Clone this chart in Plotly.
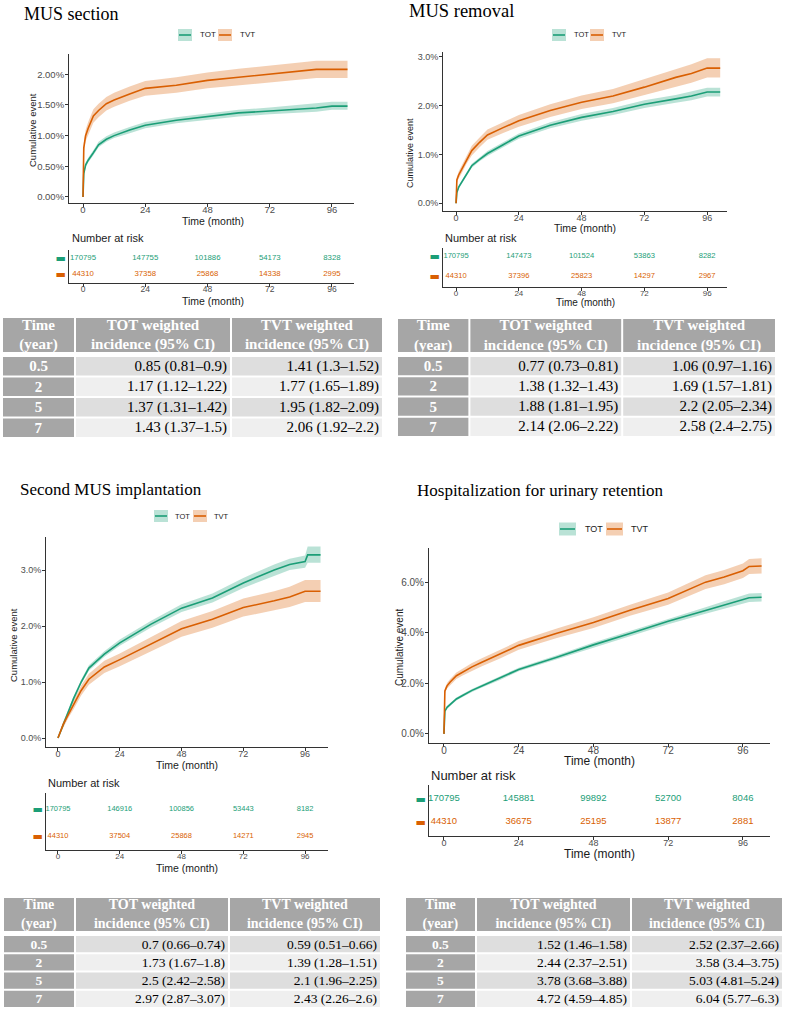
import plotly.graph_objects as go

# ======================= DATA =======================
groups = ["TOT", "TVT"]
x_ticks = [0, 24, 48, 72, 96]
risk_months = [0, 24, 48, 72, 96]
table_times = ["0.5", "2", "5", "7"]
table_header = ["<b>Time<br>(year)</b>", "<b>TOT weighted<br>incidence (95% CI)</b>",
                "<b>TVT weighted<br>incidence (95% CI)</b>"]

# ---- Panel 1: MUS section ----
p1_title = "MUS section"
p1_month = [0, 0.3, 1, 2, 4, 6, 9, 12, 18, 24, 36, 48, 60, 72, 84, 90, 96, 102]
p1_tot = [0, 0.38, 0.52, 0.60, 0.72, 0.85, 0.94, 1.00, 1.09, 1.17, 1.25, 1.31, 1.37, 1.40, 1.43, 1.45, 1.48, 1.48]
p1_tot_lo = [0, 0.34, 0.48, 0.56, 0.68, 0.81, 0.90, 0.96, 1.04, 1.12, 1.20, 1.26, 1.31, 1.35, 1.37, 1.39, 1.42, 1.42]
p1_tot_hi = [0, 0.42, 0.56, 0.64, 0.76, 0.90, 0.99, 1.05, 1.14, 1.22, 1.30, 1.36, 1.42, 1.46, 1.50, 1.52, 1.55, 1.55]
p1_tvt = [0, 0.80, 1.00, 1.12, 1.32, 1.41, 1.52, 1.58, 1.68, 1.77, 1.82, 1.90, 1.95, 2.00, 2.06, 2.08, 2.08, 2.08]
p1_tvt_lo = [0, 0.72, 0.91, 1.02, 1.21, 1.30, 1.41, 1.47, 1.57, 1.65, 1.70, 1.77, 1.82, 1.87, 1.92, 1.94, 1.94, 1.94]
p1_tvt_hi = [0, 0.88, 1.09, 1.22, 1.43, 1.52, 1.63, 1.70, 1.80, 1.89, 1.95, 2.03, 2.09, 2.14, 2.20, 2.22, 2.22, 2.22]
p1_yticks = [0, 0.5, 1.0, 1.5, 2.0]
p1_risk_tot = [170795, 147755, 101886, 54173, 8328]
p1_risk_tvt = [44310, 37358, 25868, 14338, 2995]
p1_tab_tot = ["0.85 (0.81–0.9)", "1.17 (1.12–1.22)", "1.37 (1.31–1.42)", "1.43 (1.37–1.5)"]
p1_tab_tvt = ["1.41 (1.3–1.52)", "1.77 (1.65–1.89)", "1.95 (1.82–2.09)", "2.06 (1.92–2.2)"]

# ---- Panel 2: MUS removal ----
p2_title = "MUS removal"
p2_month = [0, 0.3, 1, 2, 4, 6, 9, 12, 18, 24, 36, 48, 60, 72, 84, 90, 96, 101]
p2_tot = [0, 0.22, 0.33, 0.42, 0.60, 0.77, 0.90, 1.02, 1.20, 1.38, 1.60, 1.76, 1.88, 2.03, 2.14, 2.20, 2.28, 2.28]
p2_tot_lo = [0, 0.19, 0.30, 0.39, 0.56, 0.73, 0.86, 0.97, 1.15, 1.32, 1.54, 1.69, 1.81, 1.95, 2.06, 2.11, 2.19, 2.19]
p2_tot_hi = [0, 0.25, 0.36, 0.45, 0.64, 0.81, 0.94, 1.07, 1.25, 1.43, 1.66, 1.83, 1.95, 2.11, 2.22, 2.29, 2.37, 2.37]
p2_tvt = [0, 0.48, 0.58, 0.68, 0.90, 1.08, 1.25, 1.40, 1.55, 1.69, 1.90, 2.07, 2.20, 2.38, 2.58, 2.66, 2.77, 2.77]
p2_tvt_lo = [0, 0.42, 0.51, 0.60, 0.81, 0.98, 1.15, 1.30, 1.44, 1.57, 1.77, 1.93, 2.05, 2.22, 2.40, 2.47, 2.58, 2.58]
p2_tvt_hi = [0, 0.54, 0.65, 0.76, 0.99, 1.18, 1.35, 1.51, 1.66, 1.81, 2.03, 2.21, 2.34, 2.54, 2.75, 2.85, 2.97, 2.97]
p2_yticks = [0, 1, 2, 3]
p2_risk_tot = [170795, 147473, 101524, 53863, 8282]
p2_risk_tvt = [44310, 37396, 25823, 14297, 2967]
p2_tab_tot = ["0.77 (0.73–0.81)", "1.38 (1.32–1.43)", "1.88 (1.81–1.95)", "2.14 (2.06–2.22)"]
p2_tab_tvt = ["1.06 (0.97–1.16)", "1.69 (1.57–1.81)", "2.2 (2.05–2.34)", "2.58 (2.4–2.75)"]

# ---- Panel 3: Second MUS implantation ----
p3_title = "Second MUS implantation"
p3_month = [0, 1, 2, 4, 6, 9, 12, 18, 24, 36, 48, 60, 72, 84, 90, 96, 97, 102]
p3_tot = [0, 0.12, 0.25, 0.48, 0.70, 1.00, 1.25, 1.50, 1.70, 2.03, 2.32, 2.50, 2.77, 3.00, 3.10, 3.15, 3.27, 3.27]
p3_tot_lo = [0, 0.10, 0.22, 0.45, 0.66, 0.96, 1.20, 1.45, 1.65, 1.97, 2.25, 2.42, 2.68, 2.90, 3.00, 3.04, 3.13, 3.13]
p3_tot_hi = [0, 0.14, 0.28, 0.51, 0.74, 1.04, 1.30, 1.55, 1.76, 2.09, 2.39, 2.58, 2.86, 3.10, 3.20, 3.26, 3.42, 3.42]
p3_tvt = [0, 0.12, 0.24, 0.42, 0.59, 0.85, 1.05, 1.27, 1.40, 1.67, 1.95, 2.12, 2.33, 2.45, 2.52, 2.62, 2.62, 2.62]
p3_tvt_lo = [0, 0.09, 0.19, 0.36, 0.51, 0.76, 0.95, 1.16, 1.28, 1.54, 1.81, 1.97, 2.17, 2.28, 2.34, 2.43, 2.43, 2.43]
p3_tvt_hi = [0, 0.15, 0.29, 0.48, 0.66, 0.94, 1.15, 1.38, 1.51, 1.80, 2.09, 2.27, 2.49, 2.62, 2.70, 2.82, 2.82, 2.82]
p3_yticks = [0, 1, 2, 3]
p3_risk_tot = [170795, 146916, 100856, 53443, 8182]
p3_risk_tvt = [44310, 37504, 25868, 14271, 2945]
p3_tab_tot = ["0.7 (0.66–0.74)", "1.73 (1.67–1.8)", "2.5 (2.42–2.58)", "2.97 (2.87–3.07)"]
p3_tab_tvt = ["0.59 (0.51–0.66)", "1.39 (1.28–1.51)", "2.1 (1.96–2.25)", "2.43 (2.26–2.6)"]

# ---- Panel 4: Hospitalization for urinary retention ----
p4_title = "Hospitalization for urinary retention"
p4_month = [0, 0.3, 1, 2, 4, 6, 9, 12, 18, 24, 36, 48, 60, 72, 84, 90, 96, 98, 102]
p4_tot = [0, 0.90, 1.05, 1.15, 1.38, 1.52, 1.72, 1.88, 2.20, 2.55, 3.02, 3.52, 3.98, 4.45, 4.88, 5.10, 5.30, 5.38, 5.40]
p4_tot_lo = [0, 0.85, 0.99, 1.09, 1.32, 1.46, 1.66, 1.82, 2.13, 2.48, 2.94, 3.43, 3.88, 4.34, 4.75, 4.96, 5.14, 5.21, 5.23]
p4_tot_hi = [0, 0.95, 1.11, 1.21, 1.44, 1.58, 1.78, 1.94, 2.27, 2.62, 3.10, 3.61, 4.08, 4.56, 5.01, 5.24, 5.46, 5.55, 5.57]
p4_tvt = [0, 1.70, 1.90, 2.05, 2.30, 2.45, 2.65, 2.82, 3.15, 3.50, 3.97, 4.40, 4.90, 5.35, 6.00, 6.20, 6.45, 6.62, 6.64]
p4_tvt_lo = [0, 1.60, 1.79, 1.93, 2.17, 2.31, 2.50, 2.66, 2.98, 3.33, 3.78, 4.19, 4.68, 5.11, 5.73, 5.92, 6.16, 6.32, 6.34]
p4_tvt_hi = [0, 1.80, 2.01, 2.17, 2.43, 2.59, 2.80, 2.98, 3.32, 3.67, 4.16, 4.61, 5.12, 5.59, 6.27, 6.48, 6.74, 6.92, 6.94]
p4_yticks = [0, 2, 4, 6]
p4_risk_tot = [170795, 145881, 99892, 52700, 8046]
p4_risk_tvt = [44310, 36675, 25195, 13877, 2881]
p4_tab_tot = ["1.52 (1.46–1.58)", "2.44 (2.37–2.51)", "3.78 (3.68–3.88)", "4.72 (4.59–4.85)"]
p4_tab_tvt = ["2.52 (2.37–2.66)", "3.58 (3.4–3.75)", "5.03 (4.81–5.24)", "6.04 (5.77–6.3)"]

# ======================= STYLE / GEOMETRY =======================
W, H = 785, 1009
COL = {"TOT": "#1b9e77", "TVT": "#d95f02"}
BAND = {"TOT": "rgba(27,158,119,0.30)", "TVT": "rgba(217,95,2,0.30)"}
SANS = "Liberation Sans, Arial, sans-serif"
SERIF = "Liberation Serif, Times New Roman, serif"
AXC = "#333333"
TICKC = "#4d4d4d"
HEAD_FILL = "#a6a6a6"
ROW_FILLS = ["#dedede", "#efefef"]


def fx(p):
    return p / W


def fy(p):
    return 1 - p / H


panels = [
    dict(title=p1_title, month=p1_month, tot=p1_tot, tot_lo=p1_tot_lo, tot_hi=p1_tot_hi,
         tvt=p1_tvt, tvt_lo=p1_tvt_lo, tvt_hi=p1_tvt_hi, yticks=p1_yticks, ydec=2,
         risk_tot=p1_risk_tot, risk_tvt=p1_risk_tvt, tab_tot=p1_tab_tot, tab_tvt=p1_tab_tvt,
         g=dict(title=(22, 14, 18), leg=(178, 198, 218, 238, 35, 14, 12, 8),
                mx=(69, 354), my=(54, 203), xr=(-5.4, 104.5), yr=(-0.098, 2.33),
                ytitle=(32, 130, 9.5), xtitle=(213, 221, 10.5),
                nar=(70, 238, 11), ry=(250, 283), ryr=(-0.5625, 1.5), rxtitle=(213, 301, 10.5),
                tick=9.5, rfont=7.8,
                tab_x=(2, 383), head_y=(318, 352), body_y=(356, 438), cw=(73, 156, 152),
                tfont=15, hfont=15)),
    dict(title=p2_title, month=p2_month, tot=p2_tot, tot_lo=p2_tot_lo, tot_hi=p2_tot_hi,
         tvt=p2_tvt, tvt_lo=p2_tvt_lo, tvt_hi=p2_tvt_hi, yticks=p2_yticks, ydec=1,
         risk_tot=p2_risk_tot, risk_tvt=p2_risk_tvt, tab_tot=p2_tab_tot, tab_tvt=p2_tab_tvt,
         g=dict(title=(407, 11, 18.5), leg=(552, 572, 590, 610, 35, 14, 12, 7.5),
                mx=(443, 727), my=(52, 211), xr=(-5.0, 103.6), yr=(-0.158, 3.10),
                ytitle=(410, 153, 9), xtitle=(585, 228, 10.5),
                nar=(443, 238, 11), ry=(248, 287), ryr=(-0.55, 1.4), rxtitle=(585, 302, 10),
                tick=9, rfont=7.6,
                tab_x=(397, 776), head_y=(319, 352), body_y=(356, 437), cw=(72, 152, 153),
                tfont=15, hfont=15)),
    dict(title=p3_title, month=p3_month, tot=p3_tot, tot_lo=p3_tot_lo, tot_hi=p3_tot_hi,
         tvt=p3_tvt, tvt_lo=p3_tvt_lo, tvt_hi=p3_tvt_hi, yticks=p3_yticks, ydec=1,
         risk_tot=p3_risk_tot, risk_tvt=p3_risk_tvt, tab_tot=p3_tab_tot, tab_tvt=p3_tab_tvt,
         g=dict(title=(18, 489, 17), leg=(154, 173, 193, 212, 516, 14, 12, 7.5),
                mx=(46, 328), my=(537, 747), xr=(-4.66, 104.9), yr=(-0.16, 3.59),
                ytitle=(13, 645, 9.5), xtitle=(187, 765, 10.5),
                nar=(46, 783, 11), ry=(793, 850), ryr=(-0.52, 1.59), rxtitle=(187, 868, 10.5),
                tick=9, rfont=7.5,
                tab_x=(3, 381), head_y=(898, 931), body_y=(935, 1008), cw=(72, 154, 152),
                tfont=13.5, hfont=14)),
    dict(title=p4_title, month=p4_month, tot=p4_tot, tot_lo=p4_tot_lo, tot_hi=p4_tot_hi,
         tvt=p4_tvt, tvt_lo=p4_tvt_lo, tvt_hi=p4_tvt_hi, yticks=p4_yticks, ydec=1,
         risk_tot=p4_risk_tot, risk_tvt=p4_risk_tvt, tab_tot=p4_tab_tot, tab_tvt=p4_tab_tvt,
         g=dict(title=(415, 490, 17), leg=(559, 583, 606, 629, 529, 17, 13, 9),
                mx=(429, 770), my=(548, 743), xr=(-4.8, 104.7), yr=(-0.36, 7.35),
                ytitle=(399, 648, 10), xtitle=(599, 761, 12),
                nar=(429, 775, 13), ry=(785, 836), ryr=(-0.61, 1.61), rxtitle=(599, 854, 12),
                tick=10, rfont=9.5,
                tab_x=(405, 783), head_y=(898, 931), body_y=(935, 1008), cw=(71, 155, 152),
                tfont=13.5, hfont=14)),
]

fig = go.Figure()
annotations = []
shapes = []
layout_axes = {}

for i, p in enumerate(panels):
    g = p["g"]
    na = 2 * i + 1      # main plot axis number
    nr = 2 * i + 2      # risk table axis number
    nt = 9 + i          # incidence table axis number
    xa, ya = f"x{na}", f"y{na}"
    xr_, yr_ = f"x{nr}", f"y{nr}"
    xt, yt = f"x{nt}", f"y{nt}"

    # ---- curves with CI bands ----
    for grp, lo, hi in [("TOT", p["tot_lo"], p["tot_hi"]), ("TVT", p["tvt_lo"], p["tvt_hi"])]:
        fig.add_trace(go.Scatter(x=p["month"], y=lo, mode="lines", line=dict(width=0),
                                 xaxis=xa, yaxis=ya, showlegend=False, hoverinfo="skip"))
        fig.add_trace(go.Scatter(x=p["month"], y=hi, mode="lines", line=dict(width=0),
                                 fill="tonexty", fillcolor=BAND[grp],
                                 xaxis=xa, yaxis=ya, showlegend=False, hoverinfo="skip"))
    for grp, est in [("TOT", p["tot"]), ("TVT", p["tvt"])]:
        fig.add_trace(go.Scatter(x=p["month"], y=est, mode="lines", name=grp,
                                 line=dict(color=COL[grp], width=1.6),
                                 xaxis=xa, yaxis=ya, showlegend=False))

    # ---- risk table numbers ----
    for grp, vals, row in [("TOT", p["risk_tot"], 1), ("TVT", p["risk_tvt"], 0)]:
        fig.add_trace(go.Scatter(x=risk_months, y=[row] * len(risk_months), mode="text",
                                 text=[str(v) for v in vals],
                                 textfont=dict(family=SANS, size=g["rfont"], color=COL[grp]),
                                 xaxis=xr_, yaxis=yr_, showlegend=False, cliponaxis=False,
                                 hoverinfo="skip"))

    common_x = dict(range=list(g["xr"]), tickvals=x_ticks, ticks="outside", ticklen=3,
                    tickcolor=AXC, showline=True, linecolor=AXC, linewidth=1,
                    showgrid=False, zeroline=False, ticklabelstandoff=-5,
                    tickfont=dict(family=SANS, size=g["tick"], color=TICKC),
                    domain=[fx(g["mx"][0]), fx(g["mx"][1])], fixedrange=True)
    layout_axes[f"xaxis{na}"] = dict(common_x, anchor=ya)
    fmt = "{:." + str(p["ydec"]) + "f}%"
    layout_axes[f"yaxis{na}"] = dict(
        range=list(g["yr"]), tickvals=p["yticks"], ticktext=[fmt.format(v) for v in p["yticks"]],
        ticks="outside", ticklen=3, tickcolor=AXC, showline=True, linecolor=AXC, linewidth=1,
        showgrid=False, zeroline=False, ticklabelstandoff=-1,
        tickfont=dict(family=SANS, size=g["tick"], color=TICKC),
        domain=[fy(g["my"][1]), fy(g["my"][0])], anchor=xa, fixedrange=True)
    rx = dict(common_x, anchor=yr_)
    rx["tickfont"] = dict(family=SANS, size=g["tick"] - 1, color=TICKC)
    layout_axes[f"xaxis{nr}"] = rx
    layout_axes[f"yaxis{nr}"] = dict(
        range=list(g["ryr"]), tickvals=[1, 0],
        ticktext=[f'<span style="color:{COL["TOT"]}">▬</span>',
                  f'<span style="color:{COL["TVT"]}">▬</span>'],
        ticks="", showline=True, linecolor=AXC, linewidth=1, showgrid=False, zeroline=False,
        tickfont=dict(family="DejaVu Sans", size=11),
        domain=[fy(g["ry"][1]), fy(g["ry"][0])], anchor=xr_, fixedrange=True)

    # ---- text elements ----
    tx, ty, ts = g["title"]
    annotations.append(dict(text=p["title"], x=fx(tx), y=fy(ty), xref="paper", yref="paper",
                            xanchor="left", yanchor="middle", showarrow=False,
                            font=dict(family=SERIF, size=ts, color="black")))
    yx, yy, ys = g["ytitle"]
    annotations.append(dict(text="Cumulative event", x=fx(yx), y=fy(yy), xref="paper",
                            yref="paper", xanchor="center", yanchor="middle", textangle=-90,
                            showarrow=False, font=dict(family=SANS, size=ys, color="#1a1a1a")))
    for (ax_, ay_, as_) in [g["xtitle"], g["rxtitle"]]:
        annotations.append(dict(text="Time (month)", x=fx(ax_), y=fy(ay_), xref="paper",
                                yref="paper", xanchor="center", yanchor="middle",
                                showarrow=False, font=dict(family=SANS, size=as_, color="#1a1a1a")))
    nx, ny, ns = g["nar"]
    annotations.append(dict(text="Number at risk", x=fx(nx), y=fy(ny), xref="paper",
                            yref="paper", xanchor="left", yanchor="middle", showarrow=False,
                            font=dict(family=SANS, size=ns, color="#1a1a1a")))

    # ---- legend (ggplot-style keys) ----
    k1, t1, k2, t2, ly, kw, kh, lf = g["leg"]
    for grp, kx, txx in [("TOT", k1, t1), ("TVT", k2, t2)]:
        shapes.append(dict(type="rect", xref="paper", yref="paper",
                           x0=fx(kx), x1=fx(kx + kw), y0=fy(ly + kh / 2), y1=fy(ly - kh / 2),
                           fillcolor=BAND[grp], line=dict(width=0)))
        shapes.append(dict(type="line", xref="paper", yref="paper",
                           x0=fx(kx + 1), x1=fx(kx + kw - 1), y0=fy(ly), y1=fy(ly),
                           line=dict(color=COL[grp], width=1.6)))
        annotations.append(dict(text=grp, x=fx(txx), y=fy(ly), xref="paper", yref="paper",
                                xanchor="left", yanchor="middle", showarrow=False,
                                font=dict(family=SANS, size=lf, color="#1a1a1a")))

    # ---- incidence table drawn as horizontal bars on its own axes ----
    cw = g["cw"]
    lefts = [0, cw[0], cw[0] + cw[1]]
    hy0, hy1 = g["head_y"]
    by0, by1 = g["body_y"]
    head_h = hy1 - hy0
    rowh = (by1 - by0) / 4
    total_w = sum(cw)
    total_h = by1 - hy0
    row_c = [(by0 - hy0) + rowh * (k + 0.5) for k in range(4)]
    # header row
    fig.add_trace(go.Bar(orientation="h", y=[head_h / 2] * 3, x=[w - 2 for w in cw],
                         base=[l + 1 for l in lefts], width=[head_h] * 3,
                         marker=dict(color=HEAD_FILL, line=dict(width=0)),
                         text=table_header, textposition="inside", insidetextanchor="middle",
                         textangle=0, constraintext="none",
                         textfont=dict(family=SERIF, size=g["hfont"], color="white"),
                         xaxis=xt, yaxis=yt, showlegend=False, hoverinfo="skip"))
    # body columns
    body_cols = [
        ([f"<b>{t}</b>" for t in table_times], [HEAD_FILL] * 4, "white", "middle"),
        (p["tab_tot"], [ROW_FILLS[k % 2] for k in range(4)], "black", "end"),
        (p["tab_tvt"], [ROW_FILLS[k % 2] for k in range(4)], "black", "end"),
    ]
    for c, (vals, fills, tcol, anch) in enumerate(body_cols):
        fig.add_trace(go.Bar(orientation="h", y=row_c, x=[cw[c] - 2] * 4,
                             base=[lefts[c] + 1] * 4, width=[rowh - 2] * 4,
                             marker=dict(color=fills, line=dict(width=0)),
                             text=vals, textposition="inside", insidetextanchor=anch,
                             textangle=0, constraintext="none",
                             textfont=dict(family=SERIF, size=g["tfont"], color=tcol),
                             xaxis=xt, yaxis=yt, showlegend=False, hoverinfo="skip",
                             cliponaxis=False))
    layout_axes[f"xaxis{nt}"] = dict(range=[0, total_w], visible=False, fixedrange=True,
                                     domain=[fx(g["tab_x"][0]), fx(g["tab_x"][1])], anchor=yt)
    layout_axes[f"yaxis{nt}"] = dict(range=[total_h, 0], visible=False, fixedrange=True,
                                     domain=[fy(by1), fy(hy0)], anchor=xt)

fig.update_layout(
    width=W, height=H, margin=dict(l=0, r=0, t=0, b=0),
    paper_bgcolor="white", plot_bgcolor="rgba(0,0,0,0)", showlegend=False,
    barmode="overlay",
    annotations=annotations, shapes=shapes, **layout_axes)

fig.write_html("out.html", config={"displayModeBar": False},
               post_script="document.body.style.margin='0';document.body.style.overflow='hidden';")
